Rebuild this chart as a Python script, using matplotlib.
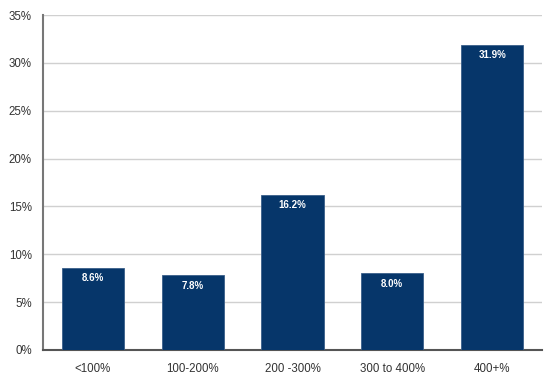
import matplotlib.pyplot as plt
import numpy as np

categories = ['<100%', '100-200%', '200 -300%', '300 to 400%', '400+%']
values = [8.6, 7.8, 16.2, 8.0, 31.9]
yticks = [0, 5, 10, 15, 20, 25, 30, 35]

plt.rcParams['font.family'] = ['Liberation Sans', 'DejaVu Sans']

fig = plt.figure(figsize=(5.55, 3.81), dpi=100)
ax = fig.add_axes([43/555, 1 - 350/381, 499/555, 335/381])

x = np.arange(len(categories))
bars = ax.bar(x, values, width=0.625, color='#06366a', edgecolor='#3a5f8a', linewidth=0.6, zorder=3)

for xi, v in zip(x, values):
    ax.text(xi, v - 0.55, f'{v:.1f}%', ha='center', va='top', color='white',
            fontsize=7, fontweight='bold', zorder=4)

ax.set_xlim(-0.5, 4.5)
ax.set_ylim(0, 35)
ax.set_yticks(yticks)
ax.set_yticklabels([f'{t}%' for t in yticks])
ax.set_xticks(x)
ax.set_xticklabels(categories)
ax.yaxis.grid(True, color='#d0d0d0', linewidth=1, zorder=0)
ax.tick_params(axis='both', length=0, labelsize=8.3, colors='#333333')
ax.tick_params(axis='x', pad=9)
ax.tick_params(axis='y', pad=8)

for s in ['top', 'right']:
    ax.spines[s].set_visible(False)
ax.spines['left'].set_color('#777777')
ax.spines['left'].set_linewidth(1.5)
ax.spines['bottom'].set_color('#555555')
ax.spines['bottom'].set_linewidth(1.5)

fig.savefig('out.png', dpi=100)
